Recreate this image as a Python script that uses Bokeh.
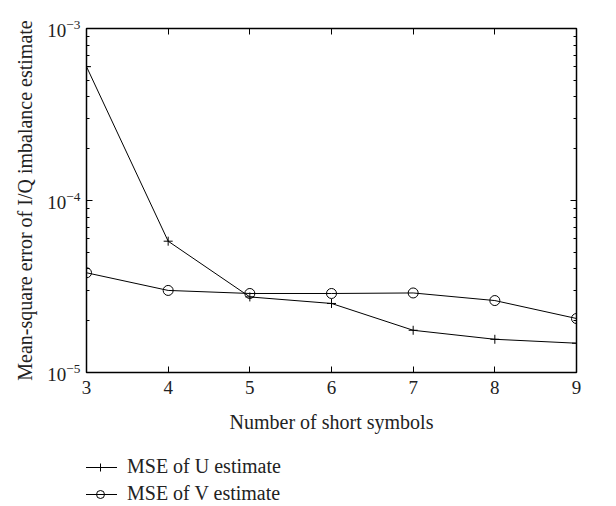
from bokeh.plotting import figure
from bokeh.layouts import column
from bokeh.models import LogAxis, LinearAxis, FixedTicker, Legend, LegendItem, Range1d, CustomJSTickFormatter
from bokeh.embed import file_html
from bokeh.resources import INLINE

n_symbols = [3, 4, 5, 6, 7, 8, 9]
mse_u = [6.0e-4, 5.8e-5, 2.75e-5, 2.52e-5, 1.76e-5, 1.56e-5, 1.48e-5]
mse_v = [3.8e-5, 3.0e-5, 2.88e-5, 2.88e-5, 2.9e-5, 2.62e-5, 2.06e-5]
x_ticks = [3, 4, 5, 6, 7, 8, 9]
y_ticks = [1e-5, 1e-4, 1e-3]
y_minor = [k * 10.0 ** e for e in (-5, -4) for k in range(2, 10)]
series_labels = ["MSE of U estimate", "MSE of V estimate"]

FONT = "Liberation Serif"

p = figure(frame_width=490, frame_height=344, y_axis_type="log",
           x_range=Range1d(3, 9), y_range=Range1d(1e-5, 1e-3),
           output_backend="svg", toolbar_location=None,
           min_border_left=86, min_border_right=30, min_border_top=28, min_border_bottom=0)
p.grid.visible = False
p.outline_line_color = "black"
p.outline_line_width = 1.5

def draw(fig):
    lu = fig.line(n_symbols, mse_u, line_color="black", line_width=1)
    mu = fig.scatter(n_symbols, mse_u, marker="cross", size=9, line_color="black", line_width=1)
    lv = fig.line(n_symbols, mse_v, line_color="black", line_width=1)
    mv = fig.scatter(n_symbols, mse_v, marker="circle", size=10, line_color="black",
                     fill_color=None, line_width=1)
    return (lu, mu), (lv, mv)

draw(p)

def style(ax):
    ax.major_tick_in = 6
    ax.major_tick_out = 0
    ax.minor_tick_in = 3
    ax.minor_tick_out = 0
    ax.axis_line_color = "black"
    ax.major_tick_line_color = "black"
    ax.minor_tick_line_color = "black"
    ax.major_label_text_font = FONT
    ax.major_label_text_font_size = "19px"
    ax.major_label_text_color = "#222222"
    ax.axis_label_text_font = FONT
    ax.axis_label_text_font_size = "20px"
    ax.axis_label_text_font_style = "normal"
    ax.axis_label_text_color = "#222222"

xa = p.xaxis[0]
xa.ticker = FixedTicker(ticks=x_ticks)
xa.axis_label = "Number of short symbols"
style(xa)
xa.major_label_standoff = 8
xa.axis_label_standoff = 14
ya = p.yaxis[0]
ya.ticker = FixedTicker(ticks=y_ticks, minor_ticks=y_minor)
ya.axis_label = "Mean-square error of I/Q imbalance estimate"
style(ya)
ya.major_label_standoff = 6
ya.axis_label_standoff = 8

blank = CustomJSTickFormatter(code="return ''")
ra = LogAxis(ticker=FixedTicker(ticks=y_ticks, minor_ticks=y_minor), formatter=blank)
style(ra)
p.add_layout(ra, "right")
ta = LinearAxis(ticker=FixedTicker(ticks=x_ticks), formatter=blank)
style(ta)
p.add_layout(ta, "above")

# Legend panel below the chart (series drawn outside its view so only the key shows)
lg = figure(width=606, height=70, y_axis_type="log",
            x_range=Range1d(100, 101), y_range=Range1d(1e2, 1e3),
            output_backend="svg", toolbar_location=None,
            x_axis_location=None, y_axis_location=None,
            min_border=0, min_border_left=0, min_border_right=0,
            min_border_top=0, min_border_bottom=0)
lg.grid.visible = False
lg.outline_line_color = None
ru, rv = draw(lg)

legend = Legend(items=[LegendItem(label=series_labels[0], renderers=list(ru)),
                       LegendItem(label=series_labels[1], renderers=list(rv))],
                location=(-3, 0), border_line_color=None, background_fill_alpha=0,
                label_text_font=FONT, label_text_font_size="20px",
                label_text_color="#222222", glyph_width=34, glyph_height=20,
                label_height=20, spacing=4, padding=0, margin=0, label_standoff=10)
lg.add_layout(legend, "center")

open("out.html", "w").write(file_html(column(p, lg, spacing=0), INLINE))
